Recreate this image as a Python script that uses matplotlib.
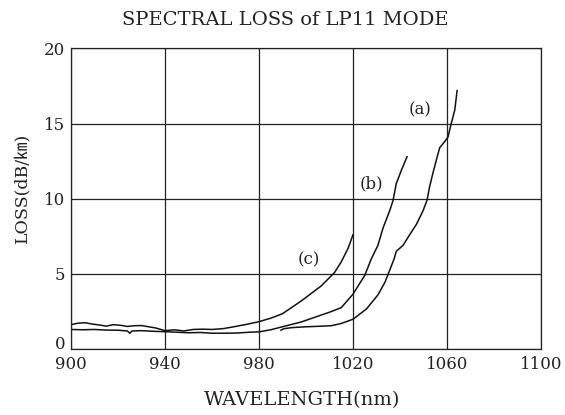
import matplotlib
matplotlib.use("Agg")
import matplotlib.pyplot as plt

# ---- data ----
wl_a = [989.3, 990.5, 993.8, 1000.0, 1003.7, 1010.8, 1015.0, 1020.0, 1025.7, 1030.6,
        1033.6, 1035.5, 1037.5, 1038.4, 1041.3, 1044.1, 1047.0, 1049.8, 1051.5, 1052.6,
        1054.0, 1055.5, 1056.9, 1059.0, 1060.4, 1061.8, 1063.3, 1064.3]
loss_a = [1.25, 1.35, 1.42, 1.48, 1.50, 1.55, 1.70, 1.98, 2.66, 3.60,
          4.44, 5.20, 6.00, 6.50, 6.90, 7.60, 8.30, 9.20, 9.90, 10.80,
          11.70, 12.60, 13.40, 13.80, 14.10, 15.00, 15.90, 17.20]

wl_b = [900, 905, 910, 915, 920, 924, 925, 926, 930, 935, 940, 945, 950, 955, 960,
        965, 970, 976.4, 980, 985, 990.7, 998, 1005, 1010, 1015, 1020, 1025,
        1027.8, 1030.6, 1032.8, 1035.6, 1037.0, 1038.4, 1040.6, 1043.0]
loss_b = [1.30, 1.28, 1.30, 1.26, 1.25, 1.20, 1.05, 1.20, 1.22, 1.18, 1.15, 1.12, 1.08, 1.10, 1.05,
          1.05, 1.06, 1.12, 1.14, 1.28, 1.51, 1.80, 2.18, 2.45, 2.75, 3.65, 4.90,
          6.00, 6.90, 8.06, 9.20, 9.86, 11.00, 11.90, 12.80]

wl_c = [900, 903, 906, 909, 912, 915, 918, 921, 924, 927, 930, 933, 936, 940, 944,
        948, 952, 956, 960, 965, 970, 975, 980, 985, 990, 998, 1006.5, 1012.2,
        1015.0, 1017.9, 1020.0]
loss_c = [1.62, 1.72, 1.75, 1.66, 1.60, 1.52, 1.62, 1.58, 1.50, 1.55, 1.56, 1.48, 1.40, 1.22, 1.28,
          1.20, 1.30, 1.32, 1.30, 1.36, 1.50, 1.65, 1.82, 2.05, 2.35, 3.20, 4.20, 5.10,
          5.80, 6.70, 7.60]

labels = ["(a)", "(b)", "(c)"]
label_pos = [(1048.5, 15.9), (1028.0, 11.0), (1001.4, 5.95)]

x_ticks = [900, 940, 980, 1020, 1060, 1100]
y_ticks = [0, 5, 10, 15, 20]

title = "SPECTRAL LOSS of LP11 MODE"
xlabel = "WAVELENGTH(nm)"
ylabel = "LOSS(dB/\u339e)"

serif = ["DejaVu Serif", "Noto Sans CJK JP"]
plt.rcParams["font.family"] = serif

fig = plt.figure(figsize=(5.65, 4.15), dpi=100)
ax = fig.add_axes([71 / 565, 1 - 349 / 415, (541 - 71) / 565, (349 - 48.5) / 415])

for wl, ls in [(wl_a, loss_a), (wl_b, loss_b), (wl_c, loss_c)]:
    ax.plot(wl, ls, color="#111111", linewidth=1.1)

for lab, (x, y) in zip(labels, label_pos):
    ax.text(x, y, lab, ha="center", va="center", fontsize=12, color="#222222")

ax.set_xlim(900, 1100)
ax.set_ylim(0, 20)
ax.set_xticks(x_ticks)
ax.set_yticks(y_ticks)
ax.set_yticklabels([str(t) for t in y_ticks])
ax.grid(True, color="#222222", linewidth=0.9)
ax.tick_params(axis="x", length=0, pad=5, labelsize=12, colors="#222222")
ax.tick_params(axis="y", length=0, pad=4, labelsize=12, colors="#222222")
for s in ax.spines.values():
    s.set_color("#222222")
    s.set_linewidth(0.9)

# the "0" label sits just above the bottom axis line in the reference
for lbl in ax.get_yticklabels():
    if lbl.get_text() == "0":
        lbl.set_verticalalignment("baseline")

fig.text(285 / 565, 1 - 20 / 415, title, ha="center", va="center", fontsize=14, color="#222222")
fig.text(302 / 565, 1 - 400 / 415, xlabel, ha="center", va="center", fontsize=14, color="#222222")
fig.text(22 / 565, 1 - 188 / 415, ylabel, ha="center", va="center", rotation=90, fontsize=12.5,
         color="#222222", family=serif)

fig.savefig("out.png", dpi=100)
